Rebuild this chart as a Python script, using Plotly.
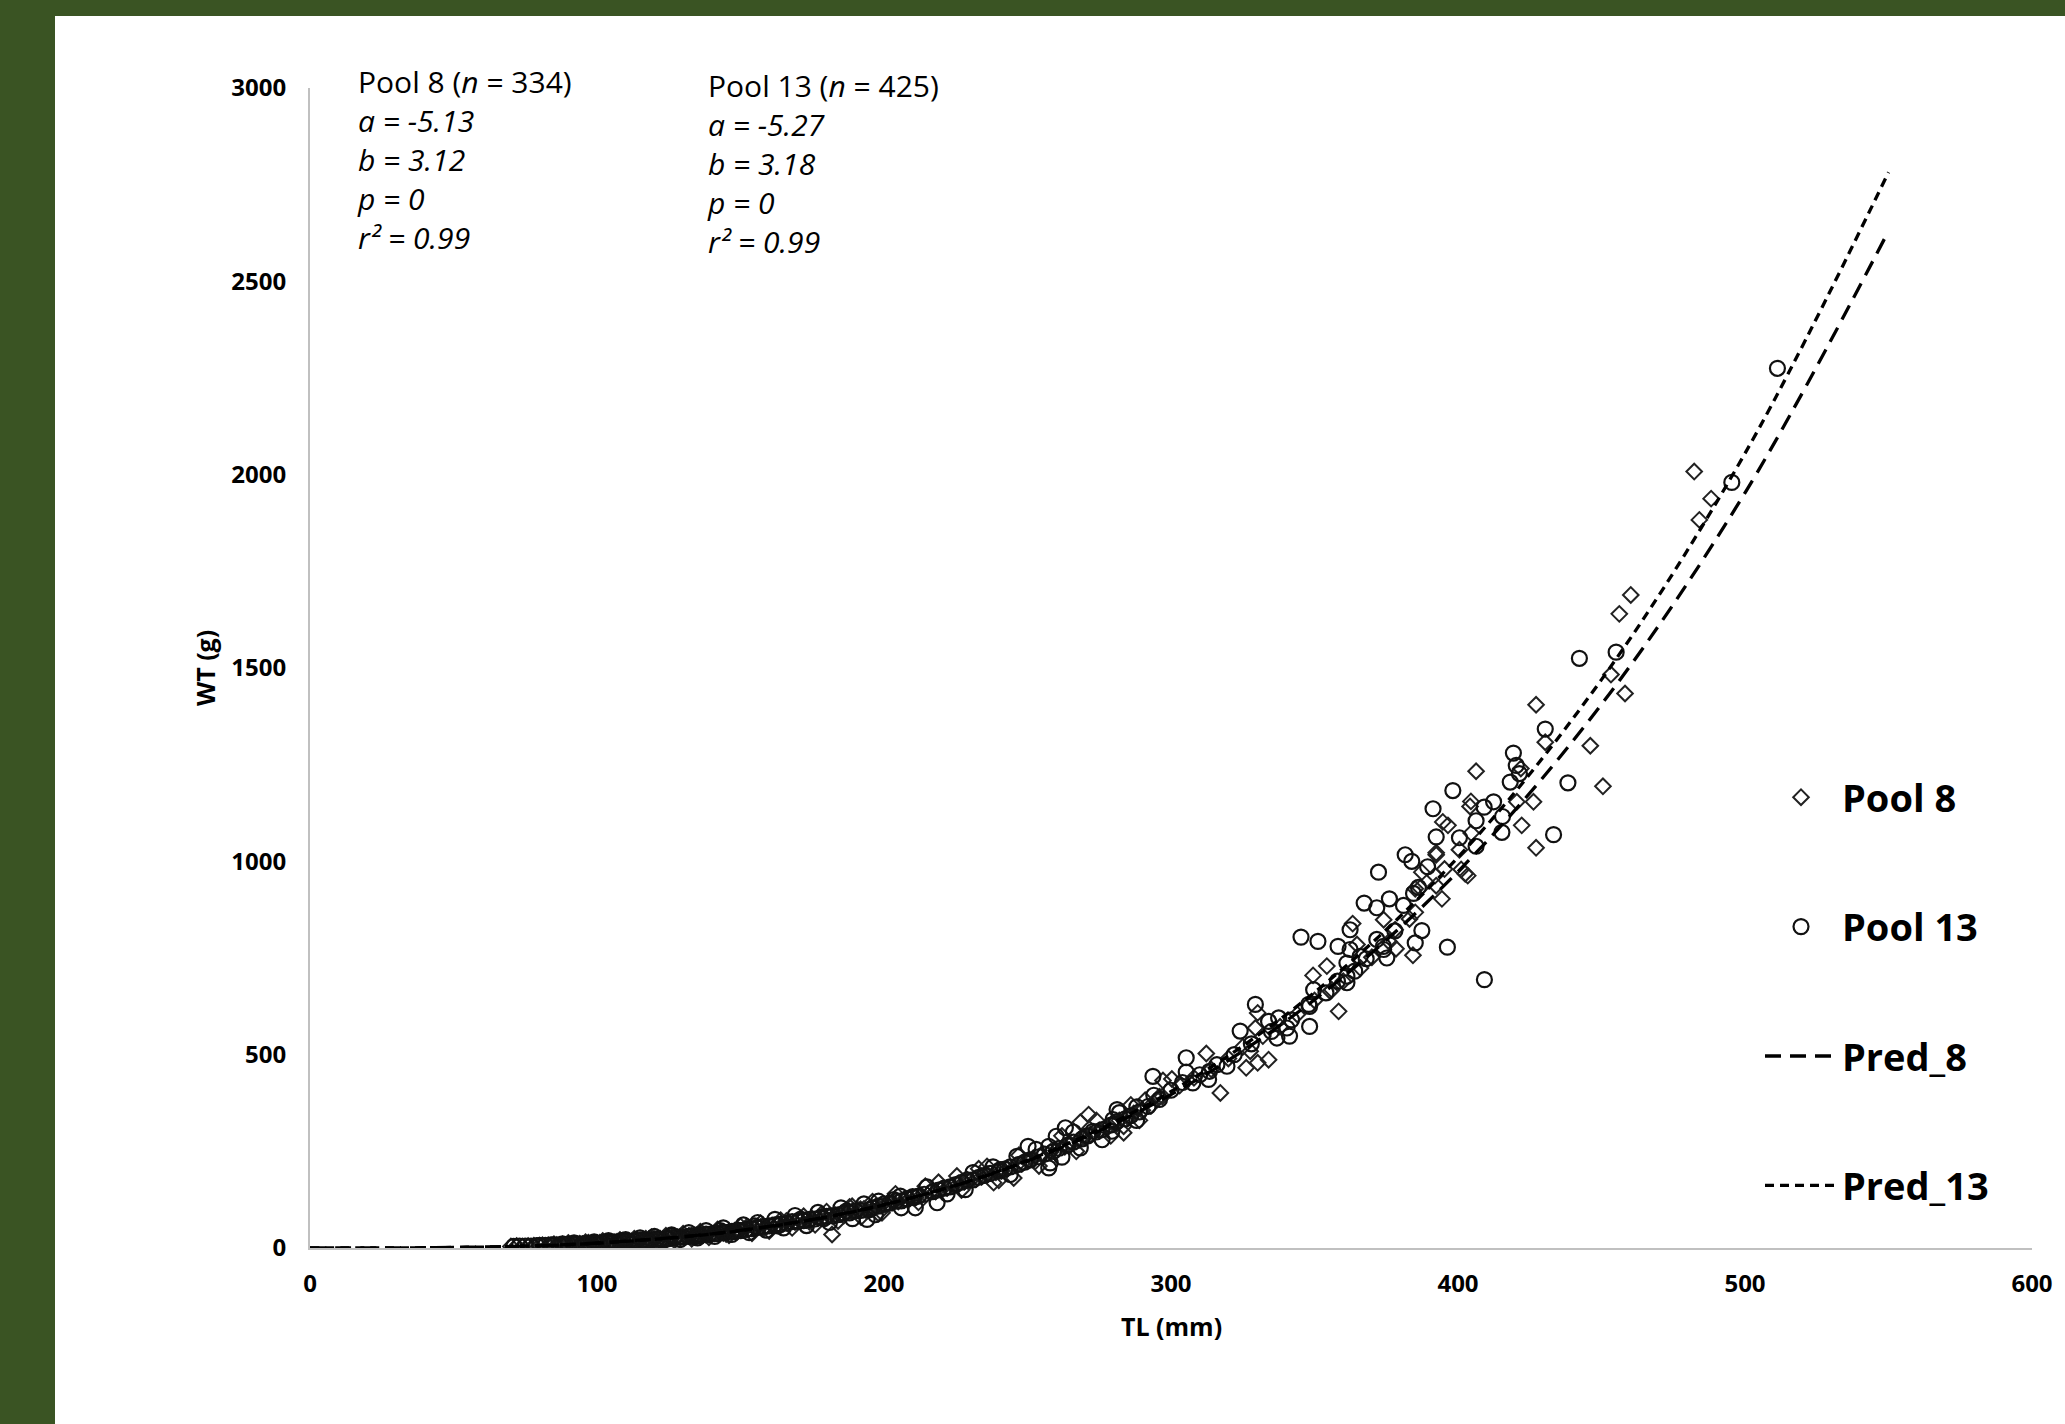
import plotly.graph_objects as go

# ---------------- data ----------------
# Pool 8 observations (TL mm, WT g)
POOL8 = [
    (70,4),(72,5),(74,4),(76,5),(78,6),(80,6),(81,7),(83,7),(84,6),(85,10),(86,8),(87,8),(88,9),(90,9),
    (91,10),(92,9),(94,11),(95,10),(96,12),(97,14),(98,12),(99,11),(100,13),(101,14),(103,14),(104,13),
    (105,15),(106,12),(107,16),(108,15),(109,17),(111,18),(112,17),(113,19),(115,20),(116,19),(117,24),
    (118,22),(119,21),(120,23),(122,24),(123,23),(125,26),(126,27),(127,25),(128,28),(129,27),(131,30),
    (132,31),(134,32),(135,33),(136,38),(137,35),(138,34),(140,37),(141,38),(143,40),(144,39),(145,36),
    (146,43),(148,45),(149,44),(151,47),(152,53),(153,49),(155,52),(157,54),(158,50),(159,55),(161,58),
    (163,61),(165,63),(166,70),(167,66),(169,67),(171,70),(173,72),(174,68),(175,76),(177,78),(178,86),
    (179,80),(181.9,35),(181,84),(183,85),(185,88),(186,84),(187,92),(188.9,108),(189,94),(191.8,100),
    (191,98),(193,101),(194,96),(195,103),(197,106),(199.3,91),(199,110),
    (90,13),(93,7),(96,15),(100,9),(102,18),(105,11),(108,21),(110,13),(113,24),(116,15),(119,28),
    (121,18),(124,32),(127,20),(130,37),(133,24),(136,42),(139,28),(142,48),(146,33),(150,56),(154,38),
    (157,64),(160,44),(164,72),(168,52),(172,82),(176,60),(180,94),(184,70),(188,106),(192,80),
    (196,120),(198,90),
    (201,112),(203,118),(204,140),(205,120),(207,124),(209,128),(211,131),(212,118),(213,136),(214.4,160),
    (216,143),(218,146),(219,170),(220,152),(222,155),(224,160),(225.4,186),(226,166),(227,150),
    (228.9,177),(228,171),(230,174),(232,178),(233,205),(234,184),(235.9,211),(236,190),(238.2,169),
    (239,196),(240,175),(241,200),(243,205),(245.2,181),(246,213),(247,240),(248,218),(250,226),
    (252.7,224),(252,232),(254,212),(255,240),(258,248),(260,252),(262,290),(263,262),(265,268),
    (267,250),(268.4,325),(269.5,289),(268,280),(270,288),(271.3,345),(272,294),(274,330),(275,304),
    (278,312),(279,290),(280,322),(282,330),(283.5,315),(283.5,298),(285,338),(286,370),(287,348),
    (289,330),(290,356),(291.0,382),(293,368),(295.1,384),
    (296.0,391),(297.2,433),(297,392),(300.3,437),(303,420),(308,440),(312.3,503),(314,462),(317.2,401),
    (320,490),(325,520),(326.2,466),(327.6,509),(329.4,569),(330.2,479),(330.2,608),(332,548),(334.0,487),
    (338,572),(344,604),(349.5,705),(350,640),(354.3,729),(355.5,664),(356,668),(358.4,612),(360,690),
    (363.3,839),(364.8,785),(366,724),(370,752),(374.1,849),(376,792),(378.1,823),(378.4,774),
    (383.1,851),(384.3,757),(385.1,868),(385.1,929),(386.8,931),(387.4,972),(392.0,963),(392.4,937),
    (392.4,1017),(392.4,1022),(394.4,903),(394.7,1102),(395.3,980),(396.5,1093),(400.5,1030),(401.1,979),
    (402.5,968),(403.4,963),(404.2,1142),(404.5,1155),(404.6,1073),(406.3,1233),(420.5,1154),(421.9,1240),
    (422.2,1093),(426.3,1154),(427.2,1035),(427.2,1405),(430.4,1308),(446.1,1299),(450.5,1194),
    (453.3,1483),(456.2,1640),(458.2,1434),(460.2,1689),(482.3,2008),(484.1,1883),(488.2,1938),
]

# Pool 13 observations (TL mm, WT g)
POOL13 = [
    (71,4),(73,5),(75,5),(77,5),(79,6),(80,7),(82,7),(84,8),(85,8),(87,8),(88,11),(89,9),(90,10),(92,10),
    (93,11),(95,11),(96,11),(97,12),(98,10),(99,13),(100,12),(102,14),(104,15),(105,14),(106,16),(108,16),
    (109,20),(110,18),(111,17),(113,18),(114,20),(116,21),(117,20),(118,18),(119,22),(121,24),(122,22),
    (124,25),(125,24),(126,31),(127,27),(129,29),(130,28),(132,30),(133,32),(134,29),(135,34),(136,32),
    (138,36),(139,35),(141,38),(142,37),(143,45),(144,41),(145,40),(147,43),(148,42),(149,46),(150,45),
    (152,48),(154,50),(155,57),(156,53),(158,56),(160,57),(162,60),(163,57),(164,62),(166,64),(168,68),
    (170,69),(171,75),(172,71),(174,74),(176,75),(178,79),(179,76),(180,82),(182,83),(184,86),(186,90),
    (187,96),(188,91),(190,96),(192,97),(194.1,74),(195,99),(196,104),(198.1,121),(198,108),
    (92,13),(95,8),(99,16),(101,10),(104,19),(107,12),(110,22),(112,14),(115,26),(118,16),(120,30),
    (123,19),(126,34),(129,22),(132,40),(135,26),(138,45),(141,30),(144,52),(147,35),(151,60),(153,40),
    (156,66),(159,46),(162,74),(165,52),(169,84),(173,58),(177,92),(181,66),(185,104),(189,76),
    (193,114),(197,86),
    (200,114),(202,116),(203.4,125),(204,121),(205.7,134),(206,122),(206,104),(208,127),(210,133),
    (210.3,130),(210.9,104),(212,134),(214,139),(215,158),(217,146),(218.5,117),(219,150),(221,155),
    (222,140),(223,158),(225,164),(227,170),(228.3,151),(229,176),(231,176),(231,195),(233,183),(235,188),
    (237,193),(238,210),(240,199),(240.5,203),(242,204),(244,210),(244,190),(246.3,237),(247,216),
    (249,222),(250.2,263),(251,228),(253,255),(254,236),(256,243),(257.4,207),(257.9,220),(257.4,263),
    (259,250),(260.0,289),(261,258),(262,235),(263.2,311),(264,266),(266,274),(266,300),(268.4,259),
    (269,282),(271,290),(272.8,302),(274,300),(276,306),(276,280),(279,318),(279.4,302),(279.8,332),
    (281.2,358),(281,326),(282,350),(284,334),(286,342),(288,330),(288.1,365),(289,352),(292,366),
    (293.7,444),(294,395),(296,384),
    (300,408),(304,428),(305.3,455),(305.3,492),(307.6,427),(310,448),(313.1,436),(313.4,457),(316,474),
    (319.5,470),(322,500),(324.1,561),(328,528),(329.4,630),(334.0,586),(335,560),(336.9,543),(337.5,595),
    (340.4,569),(341.3,548),(342,590),(345.3,804),(348.3,573),(348.3,625),(348,630),(349.7,668),
    (351.2,793),(354,660),(358.2,780),(358,690),(361.3,686),(361.3,703),(361.3,737),(362.4,772),
    (362.4,823),(364,716),(365.9,754),(367.3,892),(368,748),(371.7,798),(371.7,880),(372.3,972),
    (374.1,772),(374,780),(375.2,750),(376.1,903),(378,820),(381.0,886),(381.6,1017),(383.9,1000),
    (384.5,917),(385.1,789),(386.2,933),(387.4,821),(389.4,986),(391.3,1136),(392.4,1063),(396.3,778),
    (398.2,1183),(400.5,1061),(406.3,1039),(406.3,1105),(409.1,1140),(409.2,694),(412.4,1154),
    (415.3,1075),(415.5,1116),(418.2,1205),(419.3,1280),(420.3,1248),(421.4,1227),(430.4,1342),
    (433.3,1069),(438.3,1203),(442.3,1525),(455.1,1541),(495.4,1980),(511.3,2275),
]

# Predicted curves (TL mm, WT g)
PRED_TL   = [0, 25, 50, 75, 100, 150, 200, 250, 300, 350, 400, 450, 500, 550]
PRED8_WT  = [0, 0.17, 1.48, 5.2, 12.9, 45.6, 112.0, 224.7, 396.8, 642.1, 973.6, 1406, 1953, 2630]
PRED13_WT = [0, 0.15, 1.36, 4.8, 12.3, 44.8, 111.5, 226.7, 404.8, 661.1, 1010.5, 1470, 2055, 2782]

X_TICKS = [0, 100, 200, 300, 400, 500, 600]
Y_TICKS = [0, 500, 1000, 1500, 2000, 2500, 3000]

# Statistic text blocks
BLOCK1_LINES = ["Pool 8 (<i>n</i> = 334)", "<i>a = -5.13</i>", "<i>b = 3.12</i>",
                "<i>p = 0</i>", "<i>r² = 0.99</i>"]
BLOCK2_LINES = ["Pool 13 (<i>n</i> = 425)", "<i>a = -5.27</i>", "<i>b = 3.18</i>",
                "<i>p = 0</i>", "<i>r² = 0.99</i>"]

pool8_tl = [p[0] for p in POOL8]
pool8_wt = [p[1] for p in POOL8]
pool13_tl = [p[0] for p in POOL13]
pool13_wt = [p[1] for p in POOL13]

FONT = "Open Sans"
W, H = 2065, 1424
L_M, R_M, T_M, B_M = 310, 33, 88, 176
PW = W - L_M - R_M
PH = H - T_M - B_M


def px_x(px):
    return (px - L_M) / PW


def px_y(py):
    return (H - B_M - py) / PH


fig = go.Figure()
fig.add_trace(go.Scatter(
    x=pool8_tl, y=pool8_wt, mode="markers", name="Pool 8", legendgroup="g1",
    marker=dict(symbol="diamond-open", size=12, color="#222222", line=dict(width=2, color="#222222")),
))
fig.add_trace(go.Scatter(
    x=pool13_tl, y=pool13_wt, mode="markers", name="Pool 13", legendgroup="g2",
    marker=dict(symbol="circle-open", size=15, color="#111111", line=dict(width=2.2, color="#111111")),
))
fig.add_trace(go.Scatter(
    x=PRED_TL, y=PRED8_WT, mode="lines", name="Pred_8", legendgroup="g3",
    line=dict(color="black", width=3.3, dash="16px,9px", shape="spline"),
))
fig.add_trace(go.Scatter(
    x=PRED_TL, y=PRED13_WT, mode="lines", name="Pred_13", legendgroup="g4",
    line=dict(color="black", width=3.3, dash="9px,6px", shape="spline"),
))

axis_font = dict(family=FONT, size=24, color="black", weight="bold")
fig.update_xaxes(
    range=[0, 600], tickvals=X_TICKS, ticktext=[str(v) for v in X_TICKS],
    showgrid=False, zeroline=False, showline=True, linecolor="#C0C0C0", linewidth=2,
    ticks="", tickfont=axis_font, ticklabelstandoff=13,
)
fig.update_yaxes(
    range=[0, 3000], tickvals=Y_TICKS, ticktext=[str(v) for v in Y_TICKS],
    showgrid=False, zeroline=False, showline=True, linecolor="#C0C0C0", linewidth=2,
    ticks="", tickfont=axis_font, ticklabelstandoff=17,
)

text_font = dict(family=FONT, size=30, color="black")
annotations = [
    dict(text="<br>".join(BLOCK1_LINES), xref="paper", yref="paper", x=px_x(355), y=px_y(59),
         xanchor="left", yanchor="top", align="left", showarrow=False, font=text_font),
    dict(text="<br>".join(BLOCK2_LINES), xref="paper", yref="paper", x=px_x(705), y=px_y(63),
         xanchor="left", yanchor="top", align="left", showarrow=False, font=text_font),
    dict(text="TL (mm)", xref="paper", yref="paper", x=0.5, y=px_y(1326),
         xanchor="center", yanchor="middle", showarrow=False,
         font=dict(family=FONT, size=25, color="black", weight="bold")),
    dict(text="WT (g)", xref="paper", yref="paper", x=px_x(205), y=0.5, textangle=-90,
         xanchor="center", yanchor="middle", showarrow=False,
         font=dict(family=FONT, size=25, color="black", weight="bold")),
]

fig.update_layout(
    width=W, height=H,
    margin=dict(l=L_M, r=R_M, t=T_M, b=B_M, pad=0),
    paper_bgcolor="#3A5423", plot_bgcolor="white",
    showlegend=True,
    legend=dict(
        x=px_x(1760), xanchor="left", y=px_y(766), yanchor="top",
        font=dict(family=FONT, size=38, color="black", weight="bold"),
        bgcolor="rgba(0,0,0,0)", tracegroupgap=77, itemwidth=72, itemsizing="trace",
    ),
    shapes=[dict(type="rect", xref="paper", yref="paper", layer="below",
                 x0=px_x(55), x1=px_x(W + 10), y0=px_y(H + 10), y1=px_y(16),
                 fillcolor="white", line=dict(width=0))],
    annotations=annotations,
)

fig.write_html("out.html", config={"displayModeBar": False},
               post_script="document.body.style.margin='0';document.body.style.padding='0';")
